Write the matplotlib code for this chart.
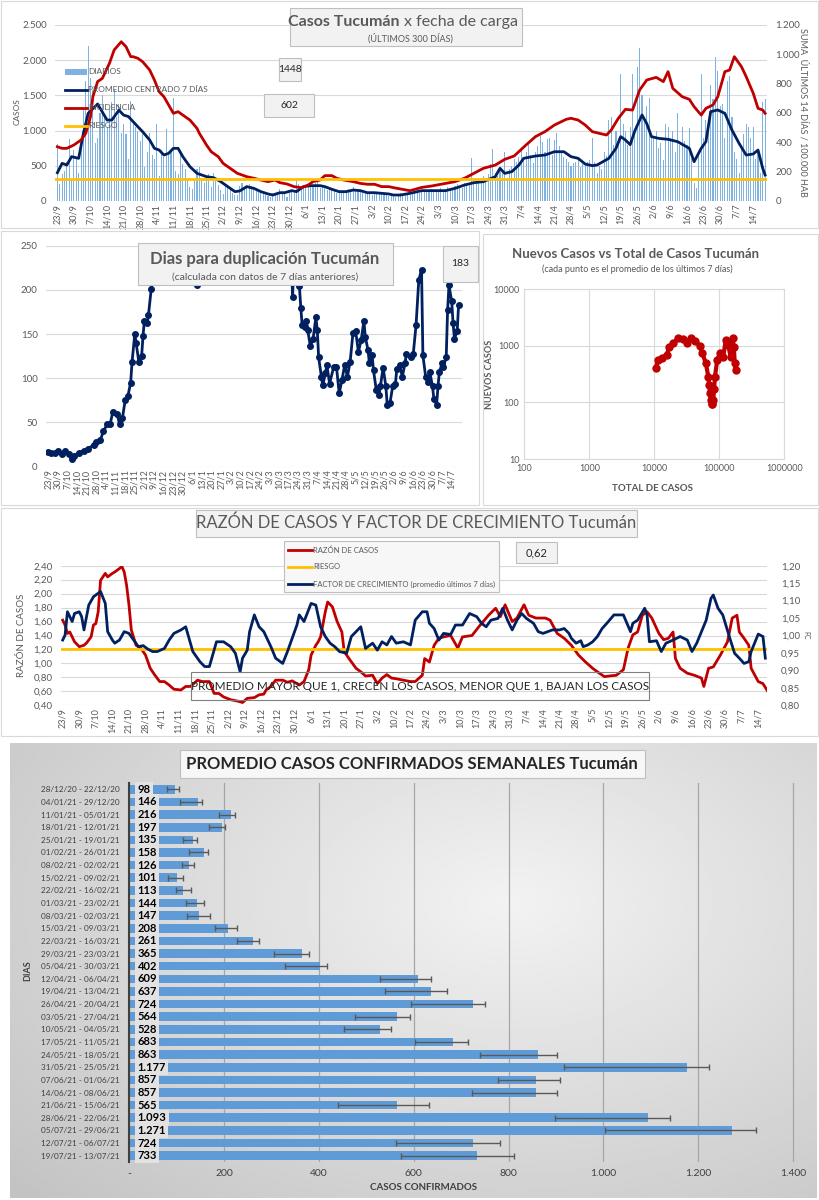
import datetime as dt

import numpy as np
import matplotlib
matplotlib.use('Agg')
import matplotlib.pyplot as plt
from matplotlib.patches import Rectangle
from matplotlib.lines import Line2D
from matplotlib.ticker import FuncFormatter

plt.rcParams['font.family'] = ['Lato', 'DejaVu Sans']

BLUE = '#7fb2e0'
BAR_BLUE = '#5f9bd6'
NAVY = '#002060'
RED = '#c00000'
ORANGE = '#ffc000'
GRID = '#d9d9d9'
TXT = '#595959'

# ---------------- data ----------------
START = dt.date(2020, 9, 23)
tick_days = list(range(0, 295, 7))
tick_labels = []
for d in tick_days:
    day = START + dt.timedelta(days=d)
    tick_labels.append(f"{day.day}/{day.month}")

# daily cases (left axis), one value per day from 23/9
daily = [
    810, 240, 380, 420, 560, 880, 300,
    730, 620, 400, 900, 1300, 1700, 2200,
    1750, 1580, 820, 900, 1250, 1500, 1220,
    1050, 1300, 1400, 1580, 1200, 1380, 960,
    1100, 950, 600, 1420, 1100, 1050, 1000,
    850, 950, 480, 700, 960, 650, 600,
    1100, 350, 720, 620, 1020, 650, 700,
    1460, 420, 380, 680, 520, 450, 300,
    200, 170, 280, 450, 480, 300, 250,
    350, 380, 200, 400, 280, 230, 150,
    100, 210, 180, 150, 120, 90, 80,
    220, 250, 200, 230, 240, 210, 170,
    180, 150, 120, 100, 90, 70, 60,
    110, 80, 130, 170, 140, 100, 60,
    150, 140, 120, 280, 240, 200, 190,
    230, 250, 220, 200, 260, 270, 180,
    200, 210, 150, 170, 180, 140, 120,
    140, 130, 120, 150, 170, 160, 200,
    150, 140, 160, 120, 110, 130, 100,
    90, 120, 110, 130, 100, 90, 110,
    70, 100, 80, 60, 90, 110, 80,
    100, 120, 90, 110, 130, 140, 120,
    150, 160, 130, 140, 170, 150, 130,
    160, 180, 140, 150, 200, 170, 160,
    220, 240, 200, 180, 260, 250, 230,
    610, 280, 300, 320, 260, 350, 300,
    380, 520, 740, 400, 350, 460, 410,
    700, 330, 450, 500, 600, 560, 620,
    760, 600, 700, 820, 660, 540, 700,
    780, 920, 840, 700, 880, 900, 650,
    860, 960, 780, 700, 620, 600, 560,
    500, 540, 560, 600, 480, 520, 540,
    560, 580, 900, 560, 400, 500, 460,
    700, 640, 1150, 1200, 800, 1000, 900,
    1800, 1100, 1000, 800, 1050, 1800, 1000,
    1900, 2180, 1500, 1200, 1350, 1470, 900,
    900, 1000, 750, 820, 580, 1100, 1050,
    900, 1000, 700, 1250, 800, 1050, 850,
    800, 1030, 600, 250, 180, 700, 1800,
    900, 1150, 1000, 1650, 1450, 2050, 1850,
    1350, 1380, 900, 1700, 1780, 1200, 700,
    600, 400, 800, 950, 1100, 1050, 900,
    1050, 600, 700, 400, 1400, 1450,
]

avg_days = [0, 2, 4, 6, 9, 11, 13, 17, 21, 23, 26, 28, 30, 34, 36, 39, 41, 43, 45, 47,
            49, 51, 53, 56, 59, 63, 66, 69, 72, 75, 77, 80, 83, 86, 89, 91, 94, 96, 99, 101,
            104, 107, 111, 113, 116, 119, 122, 125, 128, 131, 134, 137, 140, 142, 145, 149,
            154, 158, 164, 168, 172, 176, 180, 185, 187, 189, 192, 195, 197, 202, 206, 210,
            214, 217, 220, 223, 226, 228, 233, 236, 238, 240, 242, 244, 247, 249, 251, 254,
            258, 262, 267, 269, 272, 274, 276, 279, 282, 285, 288, 291, 294, 296, 298, 299]
avg_cases = [402, 535, 511, 630, 606, 961, 1245, 1378, 1150, 1150, 1290, 1220, 1200, 1055, 985,
             866, 748, 724, 653, 677, 748, 748, 630, 488, 393, 346, 331, 275, 204, 133, 142,
             204, 180, 133, 100, 85, 118, 118, 147, 133, 204, 218, 218, 204, 166, 133, 133,
             156, 147, 118, 118, 109, 100, 85, 85, 109, 147, 147, 147, 180, 227, 260, 275,
             346, 464, 393, 417, 511, 606, 639, 653, 700, 700, 630, 606, 525, 502, 511, 606,
             748, 914, 866, 800, 1000, 1222, 1100, 914, 890, 876, 843, 748, 558, 748, 843,
             1269, 1293, 1245, 1008, 819, 653, 668, 724, 464, 369]

inc_days = [0, 2, 4, 7, 10, 12, 14, 15, 17, 19, 22, 24, 27, 29, 31, 32, 34, 36, 39, 41, 43,
            45, 47, 49, 51, 53, 56, 59, 60, 63, 65, 68, 70, 73, 76, 80, 83, 86, 89, 92, 94,
            97, 100, 103, 106, 108, 111, 113, 116, 118, 121, 125, 128, 131, 134, 137, 140,
            142, 145, 149, 154, 158, 164, 168, 172, 176, 180, 185, 189, 193, 198, 202, 206,
            210, 215, 217, 220, 223, 226, 229, 232, 234, 237, 240, 243, 246, 249, 253, 256,
            258, 260, 264, 267, 269, 272, 274, 277, 279, 282, 284, 286, 289, 291, 294, 296,
            298, 299]
incidence = [370, 359, 359, 382, 416, 461, 575, 711, 814, 836, 939, 1030, 1086, 1052, 984,
             984, 973, 950, 893, 825, 745, 711, 655, 598, 609, 586, 552, 495, 461, 382, 336,
             302, 257, 223, 189, 166, 155, 143, 132, 143, 125, 116, 98, 91, 109, 132, 143,
             173, 173, 155, 143, 132, 120, 114, 114, 98, 98, 91, 82, 70, 93, 102, 120, 132,
             155, 189, 223, 245, 284, 307, 382, 439, 473, 518, 557, 564, 552, 518, 473, 461,
             450, 484, 564, 625, 620, 757, 825, 843, 814, 882, 768, 711, 693, 643, 586, 632,
             655, 711, 882, 893, 984, 916, 848, 734, 632, 620, 598]
riesgo_inc = 150

# dias para duplicacion
dup_days = [0, 2, 5, 7, 10, 12, 15, 17, 19, 22, 26, 29, 33, 35, 38, 40, 43, 45, 47, 50, 52,
            54, 56, 58, 60, 61, 63, 64, 66, 68, 69, 70, 72, 73, 75, 77, 85, 100, 107, 108,
            109, 130, 160, 176, 178, 180, 183, 184, 185, 187, 188, 189, 191, 193, 195, 196,
            197, 199, 200, 202, 203, 205, 208, 210, 212, 214, 216, 218, 220, 222, 224, 226,
            228, 230, 231, 233, 234, 236, 237, 239, 241, 242, 244, 246, 247, 249, 251, 253,
            254, 256, 258, 260, 261, 264, 266, 268, 270, 272, 273, 275, 277, 278, 280, 281,
            283, 284, 285, 287, 288, 290, 291, 292, 294, 295, 296, 298, 299]
dup_vals = [17, 16, 15, 18, 14, 18, 14, 9, 12, 16, 18, 20, 25, 28, 30, 40, 48, 48, 62, 60, 48,
            55, 75, 80, 95, 118, 150, 140, 118, 125, 148, 165, 162, 172, 201, 280, 400, 600,
            260, 206, 270, 500, 700, 300, 192, 270, 204, 180, 160, 158, 165, 155, 136, 145,
            169, 155, 124, 102, 92, 106, 115, 94, 113, 113, 83, 98, 115, 102, 119, 151, 153,
            130, 143, 165, 147, 132, 117, 126, 109, 87, 81, 91, 112, 91, 70, 72, 91, 94, 111,
            115, 102, 117, 128, 124, 128, 160, 211, 223, 126, 102, 96, 107, 91, 77, 70, 91,
            107, 117, 113, 124, 177, 205, 187, 162, 145, 153, 183]

# nuevos casos vs total
total_cases = [10480, 11520, 12970, 15480, 17000, 19600, 23400, 28000, 31500, 36100, 42000,
               50000, 55000, 62000, 67800, 70000, 71800, 74000, 76000, 78000, 80700, 83000,
               85700, 93000, 102400, 115000, 126000, 137000, 149000, 160000, 167000, 173000,
               178000]
new_cases = [403, 565, 600, 693, 946, 1114, 1366, 1312, 1145, 1366, 1242, 1000, 742, 494, 286,
             200, 145, 110, 92, 95, 110, 170, 286, 565, 742, 648, 1276, 1042, 648, 1366, 973,
             494, 369]

# razon de casos / factor de crecimiento
raz_days = [0, 1, 2, 3, 5, 7, 9, 10, 12, 13, 14, 15, 16, 18, 19, 21, 22, 24, 25, 26, 27, 28,
            29, 31, 33, 35, 37, 39, 41, 43, 45, 47, 50, 52, 54, 57, 59, 62, 64, 66, 68, 71,
            74, 76, 78, 81, 83, 85, 86, 88, 90, 93, 95, 97, 100, 102, 104, 105, 107, 108, 109,
            111, 112, 114, 116, 118, 119, 121, 124, 126, 128, 131, 133, 135, 137, 139, 141,
            147, 149, 152, 153, 155, 157, 159, 161, 164, 167, 169, 173, 176, 180, 183, 185,
            187, 190, 192, 195, 197, 200, 204, 206, 209, 212, 215, 218, 221, 224, 226, 229,
            231, 234, 237, 239, 241, 243, 245, 247, 249, 252, 254, 256, 258, 259, 261, 264,
            267, 270, 271, 273, 275, 278, 281, 283, 285, 286, 288, 290, 291, 294, 296, 298]
razon = [1.62, 1.55, 1.43, 1.45, 1.31, 1.24, 1.26, 1.29, 1.38, 1.55, 1.57, 1.74, 2.19, 2.29,
         2.24, 2.29, 2.31, 2.36, 2.39, 2.31, 2.12, 1.84, 1.48, 1.26, 1.22, 1.12, 0.93, 0.83,
         0.74, 0.74, 0.69, 0.63, 0.62, 0.67, 0.67, 0.76, 0.74, 0.74, 0.57, 0.57, 0.52, 0.48,
         0.46, 0.44, 0.50, 0.51, 0.55, 0.56, 0.62, 0.67, 0.76, 0.76, 0.73, 0.75, 0.69, 0.74,
         0.91, 1.12, 1.26, 1.31, 1.38, 1.74, 1.88, 1.81, 1.60, 1.45, 1.17, 1.07, 0.93, 0.88,
         0.82, 0.83, 0.71, 0.79, 0.84, 0.79, 0.78, 0.74, 0.74, 0.83, 1.07, 1.02, 1.26, 1.36,
         1.38, 1.40, 1.22, 1.38, 1.40, 1.53, 1.69, 1.79, 1.67, 1.84, 1.60, 1.65, 1.84, 1.69,
         1.65, 1.65, 1.62, 1.43, 1.36, 1.26, 1.12, 1.02, 0.93, 0.88, 0.81, 0.82, 0.83, 0.91,
         1.22, 1.41, 1.45, 1.69, 1.74, 1.65, 1.43, 1.34, 1.36, 1.45, 1.07, 0.93, 0.86, 0.83,
         0.79, 0.67, 0.93, 0.95, 1.12, 1.31, 1.65, 1.69, 1.45, 1.36, 1.26, 0.93, 0.74, 0.71,
         0.60]
riesgo_razon = 1.20

fc_days = [0, 1, 2, 4, 5, 7, 8, 9, 11, 13, 15, 16, 18, 19, 21, 22, 24, 26, 28, 30, 32, 34,
           36, 38, 40, 43, 45, 47, 50, 52, 53, 55, 58, 60, 62, 63, 65, 68, 71, 73, 75, 76, 78,
           79, 81, 83, 85, 88, 90, 92, 93, 95, 97, 99, 100, 102, 105, 107, 109, 111, 113, 115,
           117, 120, 122, 124, 126, 128, 131, 133, 135, 137, 139, 141, 144, 147, 149, 152,
           154, 155, 157, 159, 161, 164, 166, 169, 172, 175, 177, 179, 181, 184, 186, 188,
           190, 192, 194, 196, 199, 201, 203, 207, 210, 212, 214, 215, 217, 219, 220, 222,
           224, 226, 228, 230, 233, 237, 240, 241, 243, 246, 247, 248, 251, 253, 255, 258,
           261, 264, 266, 268, 270, 272, 274, 275, 277, 279, 282, 284, 286, 288, 290, 291,
           294, 296, 297]
factor = [0.987, 1.001, 1.068, 1.040, 1.063, 1.068, 1.054, 1.016, 1.087, 1.111, 1.121, 1.126,
          1.092, 1.011, 0.987, 0.978, 0.987, 1.011, 1.006, 0.987, 0.968, 0.971, 0.961, 0.954,
          0.954, 0.963, 0.987, 1.006, 1.016, 1.025, 1.001, 0.954, 0.925, 0.911, 0.911, 0.935,
          0.982, 0.982, 0.968, 0.949, 0.896, 0.935, 0.958, 1.011, 1.059, 1.025, 1.011, 0.968,
          0.935, 0.925, 0.920, 0.954, 0.992, 1.030, 1.059, 1.040, 1.092, 1.087, 1.025, 0.997,
          0.978, 0.968, 0.954, 0.949, 0.997, 1.011, 1.025, 0.963, 0.978, 0.958, 0.982, 0.973,
          0.997, 0.978, 0.982, 0.973, 1.044, 1.068, 1.068, 1.035, 1.020, 0.987, 1.006, 1.003,
          1.030, 1.030, 1.063, 1.054, 1.035, 1.025, 1.044, 1.049, 1.078, 1.044, 1.016, 1.044,
          1.063, 1.049, 1.035, 1.011, 1.006, 1.016, 1.016, 1.020, 1.006, 0.992, 0.978, 0.985,
          0.968, 0.973, 0.982, 0.997, 1.020, 1.035, 1.059, 1.059, 1.011, 1.035, 1.044, 1.078,
          1.059, 0.982, 0.985, 0.954, 0.978, 0.987, 0.997, 0.987, 0.954, 0.978, 1.011, 1.044,
          1.106, 1.116, 1.078, 1.059, 0.992, 0.949, 0.935, 0.920, 0.925, 0.954, 1.004, 0.997,
          0.935]

# promedio semanal
weeks = ['28/12/20 - 22/12/20', '04/01/21 - 29/12/20', '11/01/21 - 05/01/21',
         '18/01/21 - 12/01/21', '25/01/21 - 19/01/21', '01/02/21 - 26/01/21',
         '08/02/21 - 02/02/21', '15/02/21 - 09/02/21', '22/02/21 - 16/02/21',
         '01/03/21 - 23/02/21', '08/03/21 - 02/03/21', '15/03/21 - 09/03/21',
         '22/03/21 - 16/03/21', '29/03/21 - 23/03/21', '05/04/21 - 30/03/21',
         '12/04/21 - 06/04/21', '19/04/21 - 13/04/21', '26/04/21 - 20/04/21',
         '03/05/21 - 27/04/21', '10/05/21 - 04/05/21', '17/05/21 - 11/05/21',
         '24/05/21 - 18/05/21', '31/05/21 - 25/05/21', '07/06/21 - 01/06/21',
         '14/06/21 - 08/06/21', '21/06/21 - 15/06/21', '28/06/21 - 22/06/21',
         '05/07/21 - 29/06/21', '12/07/21 - 06/07/21', '19/07/21 - 13/07/21']
week_avg = [98, 146, 216, 197, 135, 158, 126, 101, 113, 144, 147, 208, 261, 365, 402, 609, 637,
            724, 564, 528, 683, 863, 1177, 857, 857, 565, 1093, 1271, 724, 733]
week_low = [80, 108, 189, 169, 113, 127, 111, 83, 99, 120, 123, 181, 228, 305, 329, 529, 539,
            594, 477, 454, 603, 740, 916, 778, 723, 440, 898, 1003, 562, 574]
week_high = [105, 153, 223, 203, 143, 167, 137, 114, 130, 158, 170, 228, 274, 379, 418, 636,
             670, 751, 592, 553, 715, 902, 1222, 909, 902, 632, 1140, 1322, 781, 812]

# ---------------- helpers ----------------
W, H = 820, 1200
fig = plt.figure(figsize=(8.2, 12), dpi=100)


def px_axes(x0, y0, x1, y1):
    return fig.add_axes([x0 / W, 1 - y1 / H, (x1 - x0) / W, (y1 - y0) / H])


def px_box(x0, y0, x1, y1, fc='none', ec='#bfbfbf', lw=0.8, z=5):
    fig.add_artist(Rectangle((x0 / W, 1 - y1 / H), (x1 - x0) / W, (y1 - y0) / H,
                             transform=fig.transFigure, fc=fc, ec=ec, lw=lw, zorder=z))


def px_text(x, y, s, **kw):
    kw.setdefault('ha', 'center')
    kw.setdefault('va', 'center')
    kw.setdefault('color', TXT)
    fig.text(x / W, 1 - y / H, s, zorder=7, **kw)


def px_line(x0, x1, y, color, lw=2):
    fig.add_artist(Line2D([x0 / W, x1 / W], [1 - y / H, 1 - y / H],
                          transform=fig.transFigure, color=color, lw=lw, zorder=6))


miles = FuncFormatter(lambda v, p: f"{v:,.0f}".replace(",", "."))
coma = FuncFormatter(lambda v, p: f"{v:.2f}".replace(".", ","))


def clean(ax):
    for s in ax.spines.values():
        s.set_visible(False)
    ax.tick_params(length=0, colors=TXT, labelsize=7)


# panel borders
px_box(1, 1, 818, 228, ec=GRID, z=1)
px_box(1, 231, 479, 505, ec=GRID, z=1)
px_box(483, 234, 818, 505, ec=GRID, z=1)
px_box(1, 508, 818, 736, ec=GRID, z=1)

# ---------------- panel 1: casos diarios ----------------
ax1 = px_axes(55, 25, 767, 201)
ax1.bar(range(len(daily)), daily, width=0.45, color=BLUE)
ax1.plot(avg_days, avg_cases, color=NAVY, lw=2)
ax1.set_xlim(-1, 299.8)
ax1.set_ylim(0, 2500)
ax1.set_yticks(range(0, 2501, 500))
ax1.yaxis.set_major_formatter(miles)
ax1.set_xticks(tick_days, tick_labels, rotation=90)
clean(ax1)
ax1.tick_params(axis='x', labelsize=6.5, pad=2)
ax1.tick_params(axis='y', pad=6)
ax1.grid(axis='y', color=GRID, lw=0.8)
ax1.set_axisbelow(True)

ax1r = ax1.twinx()
ax1r.plot(inc_days, incidence, color=RED, lw=2)
ax1r.axhline(riesgo_inc, color=ORANGE, lw=2)
ax1r.set_ylim(0, 1200)
ax1r.set_yticks(range(0, 1201, 200))
ax1r.yaxis.set_major_formatter(miles)
clean(ax1r)
ax1r.tick_params(axis='y', pad=6)

px_text(17, 112, 'CASOS', fontsize=6, rotation=90)
px_text(803, 112, 'SUMA  ÚLTIMOS 14 DÍAS / 100.000 HAB', fontsize=6.5, rotation=270)

px_box(290, 8, 522, 46, fc='#f2f2f2')
px_text(400, 22, 'Casos Tucumán', fontsize=11.5, fontweight='bold', ha='right')
px_text(404, 22, 'x fecha de carga', fontsize=11.5, ha='left')
px_text(410, 38, '(ÚLTIMOS 300 DÍAS)', fontsize=6.5)

px_box(279, 58, 301, 81, fc='#f2f2f2')
px_text(290, 70, '1448', fontsize=7.5, color='#262626')
px_box(264, 94, 314, 117, fc='#f2f2f2')
px_text(289, 106, '602', fontsize=7.5, color='#262626')

fig.add_artist(Rectangle((65 / W, 1 - 75 / H), 22 / W, 6 / H, transform=fig.transFigure,
                         fc=BLUE, ec='none', zorder=6))
px_text(88, 72, 'DIARIOS', fontsize=6, ha='left')
px_line(65, 87, 90, NAVY)
px_text(88, 90, 'PROMEDIO CENTRADO 7 DÍAS', fontsize=6, ha='left')
px_line(65, 87, 108, RED)
px_text(88, 108, 'INCIDENCIA', fontsize=6, ha='left')
px_line(65, 87, 126, ORANGE)
px_text(88, 126, 'RIESGO', fontsize=6, ha='left')

# ---------------- panel 2: dias para duplicacion ----------------
ax2 = px_axes(46, 245.7, 462, 466.7)
ax2.plot(dup_days, dup_vals, color=NAVY, lw=2, marker='o', ms=4)
ax2.set_xlim(-1.7, 301.5)
ax2.set_ylim(0, 250)
ax2.set_yticks(range(0, 251, 50))
ax2.set_xticks(tick_days, tick_labels, rotation=90)
clean(ax2)
ax2.tick_params(axis='x', labelsize=6.5, pad=2)
ax2.tick_params(axis='y', pad=6)
ax2.grid(axis='y', color=GRID, lw=0.8)
ax2.set_axisbelow(True)

px_box(138, 243, 393, 285, fc='#f2f2f2')
px_text(265, 259, 'Dias para duplicación Tucumán', fontsize=12, fontweight='bold')
px_text(265, 277, '(calculada con datos de 7 días anteriores)', fontsize=7.5)
px_box(443, 246, 478, 282, fc='#f2f2f2')
px_text(460.5, 264, '183', fontsize=7.5, color='#262626')

# ---------------- panel 2b: nuevos vs total ----------------
ax3 = px_axes(524.3, 289.3, 784.3, 459)
ax3.set_xscale('log')
ax3.set_yscale('log')
ax3.plot(total_cases, new_cases, color=RED, lw=3, marker='o', ms=5)
ax3.set_xlim(100, 1e6)
ax3.set_ylim(10, 1e4)
ax3.set_xticks([100, 1000, 10000, 100000, 1000000], ['100', '1000', '10000', '100000', '1000000'])
ax3.set_yticks([10, 100, 1000, 10000], ['10', '100', '1000', '10000'])
ax3.minorticks_off()
for s in ax3.spines.values():
    s.set_color(GRID)
ax3.tick_params(length=0, colors=TXT, labelsize=6.5)
ax3.grid(color=GRID, lw=0.8)
ax3.set_axisbelow(True)

px_text(636, 254, 'Nuevos Casos vs Total de Casos Tucumán', fontsize=9.5, fontweight='bold')
px_text(637, 269, '(cada punto es el promedio de los últimos 7 días)', fontsize=6.5)
px_text(490, 374, 'NUEVOS CASOS', fontsize=6.5, fontweight='bold', rotation=90)
px_text(653, 488, 'TOTAL DE CASOS', fontsize=7, fontweight='bold')

# ---------------- panel 3: razon y factor ----------------
ax4 = px_axes(61, 565.7, 767, 705.3)
ax4.plot(raz_days, razon, color=RED, lw=2)
ax4.axhline(riesgo_razon, color=ORANGE, lw=2)
ax4.set_xlim(-0.72, 297.7)
ax4.set_ylim(0.4, 2.4)
ax4.set_yticks(np.arange(0.4, 2.41, 0.2))
ax4.yaxis.set_major_formatter(coma)
ax4.set_xticks(tick_days, tick_labels, rotation=90)
clean(ax4)
ax4.tick_params(axis='x', labelsize=6.5, pad=2)
ax4.tick_params(axis='y', pad=6)
ax4.grid(axis='y', color=GRID, lw=0.8)
ax4.set_axisbelow(True)

ax4r = ax4.twinx()
ax4r.plot(fc_days, factor, color=NAVY, lw=2)
ax4r.set_ylim(0.8, 1.2)
ax4r.set_yticks(np.arange(0.8, 1.201, 0.05))
ax4r.yaxis.set_major_formatter(coma)
clean(ax4r)
ax4r.tick_params(axis='y', pad=10)

px_text(22, 635, 'RAZÓN DE CASOS', fontsize=7, rotation=90)
px_text(806, 635, 'FC', fontsize=5, rotation=270)

px_box(196, 510, 637, 537, fc='#f2f2f2')
px_text(416, 523, 'RAZÓN DE CASOS Y FACTOR DE CRECIMIENTO Tucumán', fontsize=12)
px_box(284, 541, 499, 592, fc='#f7f7f7')
px_line(288, 312, 550, RED)
px_text(313, 550, 'RAZÓN DE CASOS', fontsize=5.5, ha='left')
px_line(288, 312, 567, ORANGE)
px_text(313, 567, 'RIESGO', fontsize=5.5, ha='left')
px_line(288, 312, 584, NAVY)
px_text(313, 584, 'FACTOR DE CRECIMIENTO (promedio últimos 7 días)', fontsize=5.5, ha='left')
px_box(516, 542, 557, 563, fc='#f2f2f2')
px_text(536.5, 553, '0,62', fontsize=8, color='#262626')
px_box(191, 672, 649, 700, ec='#7f7f7f')
px_text(420, 686, 'PROMEDIO MAYOR QUE 1, CRECEN LOS CASOS, MENOR QUE 1, BAJAN LOS CASOS',
        fontsize=8.5, color='#262626')

# ---------------- panel 4: promedio semanal ----------------
bg = px_axes(10, 743, 817, 1198)
gx, gy = np.meshgrid(np.linspace(0, 1, 200), np.linspace(0, 1, 200))
shade = 0.95 - 0.22 * np.hypot(gx - 0.62, (gy - 0.35) * 0.9)
bg.imshow(shade, cmap='gray', vmin=0, vmax=1, extent=(0, 1, 0, 1), aspect='auto')
bg.axis('off')

ax5 = px_axes(129, 783, 798, 1162)
ax5.set_facecolor('none')
ypos = np.arange(len(weeks))
ax5.barh(ypos, week_avg, height=0.68, color=BAR_BLUE)
err = [np.array(week_avg) - np.array(week_low), np.array(week_high) - np.array(week_avg)]
ax5.errorbar(week_avg, ypos, xerr=err, fmt='none', ecolor='#595959', elinewidth=1,
             capsize=2.5, capthick=1)
for y, v in zip(ypos, week_avg):
    ax5.text(18, y, f"{v:,}".replace(",", "."), ha='left', va='center', fontsize=8,
             fontweight='bold', color='black',
             bbox=dict(boxstyle='square,pad=0.2', fc='#e2e2e2', ec='none'))
ax5.set_xlim(0, 1410)
ax5.set_ylim(len(weeks) - 0.5, -0.5)
ax5.set_yticks(ypos, weeks)
ax5.set_xticks(range(0, 1401, 200), ['-', '200', '400', '600', '800', '1.000', '1.200', '1.400'])
for s in ax5.spines.values():
    s.set_visible(False)
ax5.spines['left'].set_visible(True)
ax5.spines['left'].set_color('#404040')
ax5.spines['left'].set_linewidth(1.5)
ax5.tick_params(length=0, colors='#404040', labelsize=7.5)
ax5.tick_params(axis='y', labelsize=5.9, pad=7)
ax5.tick_params(axis='x', pad=5)
ax5.grid(axis='x', color='#a6a6a6', lw=0.9)
ax5.set_axisbelow(True)

px_box(180, 750, 645, 778, fc='#f7f7f7')
px_text(412, 764, 'PROMEDIO CASOS CONFIRMADOS SEMANALES Tucumán', fontsize=12,
        fontweight='bold', color='#262626')
px_text(28, 971, 'DIAS', fontsize=6.5, fontweight='bold', rotation=90, color='#404040')
px_text(424, 1187, 'CASOS CONFIRMADOS', fontsize=7, fontweight='bold', color='#404040')

fig.savefig('out.png', dpi=100)
